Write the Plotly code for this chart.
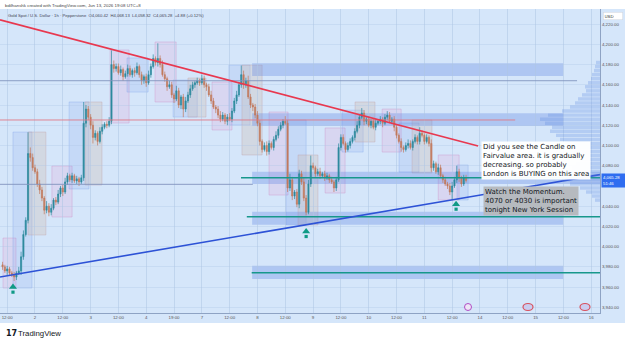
import plotly.graph_objects as go

# ---------------- data ----------------
x_tick_vals = [-12, 0, 12, 24, 36, 48, 60, 72, 84, 96, 108, 120, 132, 144, 156, 168, 180, 192, 204, 216, 228, 240]
x_tick_text = ["12:00", "2", "12:00", "3", "12:00", "4", "19:00", "7", "12:00", "8", "12:00", "9",
               "12:00", "10", "12:00", "11", "12:00", "14", "12:00", "15", "12:00", "16"]
# 4,060 is hidden behind the last-price label in the original
y_tick_vals = [3940, 3960, 3980, 4000, 4020, 4040, 4080, 4100, 4120, 4140, 4160, 4180, 4200, 4220]

bar_index = list(range(-14, 187))   # hourly bars
first_open = 3982
closes = [
    3980, 3976, 3978, 3974, 3972, 3970, 3974, 3976, 3990, 4012,
    4026, 4092, 4088, 4078, 4074, 4062, 4056, 4048, 4036, 4040,
    4034, 4038, 4046, 4044, 4052, 4058, 4054, 4064, 4070, 4066,
    4070, 4065, 4067, 4064, 4068, 4122, 4136, 4128, 4120, 4108,
    4112, 4104, 4114, 4118, 4121, 4120, 4124, 4180, 4176, 4178,
    4172, 4175, 4168, 4171, 4176, 4170, 4174, 4172, 4178, 4170,
    4164, 4168, 4162, 4170, 4178, 4186, 4182, 4186, 4180, 4170,
    4166, 4158, 4160, 4150, 4146, 4154, 4140, 4148, 4136, 4144,
    4150, 4156, 4160, 4162, 4164, 4162, 4166, 4160, 4158, 4150,
    4144, 4138, 4136, 4130, 4126, 4130, 4124, 4128, 4126, 4134,
    4144, 4150, 4160, 4170, 4160, 4164, 4148, 4140, 4138, 4130,
    4122, 4104, 4096, 4100, 4094, 4102, 4098, 4106, 4110, 4116,
    4120, 4124, 4122, 4058, 4066, 4050, 4054, 4042, 4072, 4064,
    4048, 4034, 4062, 4080, 4078, 4072, 4074, 4070, 4072, 4068,
    4070, 4066, 4064, 4058, 4066, 4098, 4108, 4102, 4096, 4100,
    4104, 4108, 4114, 4120, 4128, 4132, 4124, 4126, 4120, 4124,
    4118, 4122, 4124, 4126, 4122, 4128, 4130, 4124, 4126, 4118,
    4110, 4104, 4098, 4096, 4100, 4102, 4098, 4104, 4108, 4104,
    4112, 4110, 4104, 4108, 4102, 4078, 4082, 4074, 4078, 4070,
    4066, 4062, 4060, 4054, 4060, 4066, 4074, 4068, 4062, 4068,
    4065.28,
]
upper_wick = [
    3, 2, 3, 2, 2, 3, 2, 4, 5, 4,
    3, 21, 6, 4, 3, 3, 4, 3, 2, 5,
    3, 4, 2, 3, 4, 2, 3, 4, 3, 2,
    3, 2, 3, 2, 3, 21, 4, 3, 3, 4,
    3, 2, 4, 3, 2, 3, 4, 14, 4, 3,
    3, 4, 2, 3, 4, 3, 2, 3, 4, 2,
    3, 2, 3, 4, 3, 4, 2, 15, 3, 4,
    3, 2, 4, 3, 2, 5, 3, 2, 3, 4,
    3, 4, 3, 2, 3, 2, 4, 3, 2, 3,
    4, 3, 2, 3, 4, 3, 2, 3, 4, 3,
    3, 4, 3, 9, 4, 3, 5, 3, 2, 3,
    4, 3, 2, 3, 4, 3, 2, 3, 4, 3,
    3, 2, 5, 3, 6, 3, 2, 3, 4, 3,
    4, 3, 4, 10, 3, 2, 3, 4, 2, 3,
    3, 2, 3, 2, 3, 4, 3, 3, 2, 3,
    3, 2, 3, 4, 3, 5, 3, 2, 3, 2,
    3, 4, 2, 3, 2, 3, 4, 3, 2, 3,
    3, 2, 3, 2, 3, 4, 3, 2, 3, 2,
    6, 3, 2, 3, 2, 4, 3, 2, 4, 3,
    2, 3, 2, 3, 4, 3, 6, 3, 2, 3,
    3,
]
lower_wick = [
    3, 2, 4, 3, 2, 4, 3, 2, 4, 3,
    2, 3, 4, 3, 2, 3, 4, 3, 4, 3,
    4, 3, 2, 3, 2, 3, 4, 2, 3, 2,
    3, 2, 3, 4, 2, 3, 4, 3, 4, 6,
    3, 4, 2, 3, 2, 3, 2, 3, 4, 3,
    2, 3, 4, 2, 3, 2, 3, 4, 2, 3,
    4, 3, 4, 2, 3, 2, 3, 4, 3, 2,
    3, 4, 2, 3, 4, 2, 3, 4, 8, 3,
    2, 3, 2, 3, 2, 3, 2, 3, 4, 2,
    3, 2, 4, 3, 3, 2, 3, 4, 2, 3,
    2, 3, 2, 3, 4, 3, 2, 3, 4, 3,
    3, 4, 3, 2, 4, 3, 2, 3, 2, 3,
    2, 3, 2, 4, 3, 4, 3, 3, 4, 3,
    3, 3, 2, 3, 2, 3, 2, 3, 2, 3,
    2, 3, 2, 4, 3, 2, 3, 2, 3, 2,
    3, 2, 3, 2, 3, 2, 4, 3, 2, 3,
    2, 3, 2, 3, 4, 2, 3, 2, 3, 4,
    3, 2, 4, 3, 2, 3, 2, 3, 2, 3,
    3, 2, 3, 2, 3, 4, 3, 2, 3, 2,
    3, 2, 3, 3, 8, 2, 3, 4, 3, 2,
    2,
]

# trend lines (bar index, price)
red_trend_x = [-15.1, 191.2]
red_trend_y = [4224.2, 4099.5]
blue_trend_x = [-15.1, 243.8]
blue_trend_y = [3970.0, 4071.2]

# key horizontal levels
teal_levels = [4068.1, 4029.6, 3974.2]
teal_start = [88.9, 91.4, 93.5]
grey_levels = [4164.0, 4061.6]
grey_end = [233.9, 94.0]
red_level = 4125.2
red_level_end = 207.2
chart_left = -15.1
chart_right = 243.8

# supply / demand zones
zone_top = [4181.2, 4131.8, 4074.0, 4034.5, 3981.1]
zone_bot = [4168.7, 4119.2, 4062.0, 4021.6, 3968.0]
zone_x0 = [93.7, 93.7, 93.7, 93.7, 93.7]
zone_x1 = [227.9, 227.9, 243.8, 227.9, 227.9]

# session boxes
box_kind = (["p"] * 9) + (["b"] * 9) + (["g"] * 7)
box_x0 = [-13.8, 7.3, 32.4, 51.8, 76.4, 101.0, 125.2, 149.8, 174.0,
          -9.5, 14.7, 39.7, 59.6, 83.7, 108.3, 132.5, 157.1, 182.1,
          -3.0, 21.6, 66.0, 89.3, 113.5, 138.1, 162.7]
box_x1 = [-8.2, 16.0, 40.6, 60.9, 85.0, 109.2, 133.8, 158.0, 183.0,
          -1.3, 23.3, 48.8, 70.0, 92.8, 117.0, 141.6, 165.7, 186.9,
          4.7, 28.9, 73.8, 98.0, 122.1, 146.7, 171.3]
box_top = [4008.5, 4079.7, 4194.4, 4202.3, 4162.7, 4133.1, 4117.3, 4136.0, 4090.6,
           4113.3, 4143.0, 4186.5, 4164.7, 4179.5, 4125.2, 4135.0, 4122.2, 4080.7,
           4113.3, 4143.0, 4166.7, 4179.5, 4090.6, 4143.0, 4125.2]
box_bot = [3959.1, 4029.3, 4122.2, 4143.0, 4115.3, 4051.0, 4053.0, 4093.5, 4046.1,
           3959.1, 4057.0, 4152.8, 4128.1, 4120.2, 4021.4, 4093.5, 4073.7, 4046.1,
           4011.5, 4060.9, 4128.1, 4090.6, 4021.4, 4103.4, 4072.8]

# buy arrows
arrow_x = [-9.5, 117.0, 181.7]
arrow_y = [3960.0, 4015.0, 4042.0]

# fixed range volume profile
vp_price = [4182, 4178, 4174, 4170, 4166, 4162, 4158, 4154, 4150, 4146, 4142, 4138, 4134, 4130,
            4126, 4122, 4118, 4114, 4110, 4106, 4102, 4098, 4094, 4090, 4086, 4082, 4078, 4074,
            4070, 4066, 4062, 4058, 4054, 4050, 4046]
vp_len = [4, 5, 6, 8, 9, 12, 15, 14, 18, 22, 25, 30, 38, 52, 60, 55, 48, 50, 44, 40, 35, 30, 26,
          22, 20, 24, 28, 34, 40, 38, 30, 20, 14, 8, 5]

last_price = 4065.28
countdown = "51:46"
note1 = "Did you see the Candle on<br>Fairvalue area. it is gradually<br>decreasing. so probably<br>London is BUYING on this area"
note2 = "Watch the Momentum.<br>4070 or 4030 is important<br>tonight New York Session"
header = "bdilhanshk created with TradingView.com, Jun 13, 2026 19:08 UTC+8"
legend = "Gold Spot / U.S. Dollar · 1h · Pepperstone  O4,060.42  H4,068.13  L4,058.32  C4,065.28  +4.88 (+0.12%)"

# ---------------- figure ----------------
W, H = 625, 343
ML, MR, MT, MB = 0, 25, 9, 30
PW, PH = W - ML - MR, H - MT - MB


def px(xp):
    return (xp - ML) / PW


def py(yp):
    return (H - MB - yp) / PH


UP = "#2c8a9d"
DN = "#c27a5d"
BG = "#d5e6fa"

opens = [first_open] + closes[:-1]
highs = [max(o, c) + w for o, c, w in zip(opens, closes, upper_wick)]
lows = [min(o, c) - w for o, c, w in zip(opens, closes, lower_wick)]

fig = go.Figure()

fig.add_trace(go.Bar(y=vp_price, x=vp_len, orientation="h", xaxis="x2", yaxis="y", width=3.4,
                     marker=dict(color="rgba(95,135,225,0.28)", line=dict(width=0)),
                     hoverinfo="skip", showlegend=False))

fig.add_trace(go.Candlestick(
    x=bar_index, open=opens, high=highs, low=lows, close=closes,
    increasing=dict(line=dict(color=UP, width=0.7), fillcolor=UP),
    decreasing=dict(line=dict(color=DN, width=0.7), fillcolor=DN),
    whiskerwidth=0, hoverinfo="skip", showlegend=False))

# horizontal levels
for lv, xs in zip(teal_levels, teal_start):
    fig.add_trace(go.Scatter(x=[xs, chart_right], y=[lv, lv], mode="lines",
                             line=dict(color="#17978b", width=1.5), hoverinfo="skip", showlegend=False))
for lv, xe in zip(grey_levels, grey_end):
    fig.add_trace(go.Scatter(x=[chart_left, xe], y=[lv, lv], mode="lines",
                             line=dict(color="#8193bd", width=0.9), hoverinfo="skip", showlegend=False))
fig.add_trace(go.Scatter(x=[chart_left, red_level_end], y=[red_level, red_level], mode="lines",
                         line=dict(color="#e07a88", width=0.9), hoverinfo="skip", showlegend=False))

# trend lines
fig.add_trace(go.Scatter(x=red_trend_x, y=red_trend_y, mode="lines",
                         line=dict(color="#e8384f", width=1.6), hoverinfo="skip", showlegend=False))
fig.add_trace(go.Scatter(x=blue_trend_x, y=blue_trend_y, mode="lines",
                         line=dict(color="#2d52d6", width=1.6), hoverinfo="skip", showlegend=False))

# arrows (head + stem)
fig.add_trace(go.Scatter(x=arrow_x, y=arrow_y, mode="markers",
                         marker=dict(symbol="triangle-up", size=7, color="#109a86"),
                         hoverinfo="skip", showlegend=False))
fig.add_trace(go.Scatter(x=arrow_x, y=[v - 5 for v in arrow_y], mode="markers",
                         marker=dict(symbol="square", size=3.2, color="#109a86"),
                         hoverinfo="skip", showlegend=False))

shapes = []
# chart background (price + time axis strips included)
shapes.append(dict(type="rect", xref="paper", yref="paper", x0=px(0), x1=px(W), y0=py(323), y1=py(MT),
                   fillcolor=BG, line=dict(width=0), layer="below"))

box_style = {
    "p": ("rgba(226,180,222,0.30)", "rgba(205,140,195,0.6)"),
    "b": ("rgba(110,150,232,0.15)", "rgba(110,150,232,0.45)"),
    "g": ("rgba(205,188,178,0.32)", "rgba(190,155,160,0.55)"),
}
for k, x0, x1, t, b in zip(box_kind, box_x0, box_x1, box_top, box_bot):
    fc, lc = box_style[k]
    shapes.append(dict(type="rect", xref="x", yref="y", x0=x0, x1=x1, y0=b, y1=t,
                       fillcolor=fc, line=dict(color=lc, width=0.6), layer="below"))

for t, b, x0, x1 in zip(zone_top, zone_bot, zone_x0, zone_x1):
    shapes.append(dict(type="rect", xref="x", yref="y", x0=x0, x1=x1, y0=b, y1=t,
                       fillcolor="rgba(92,130,228,0.32)", line=dict(width=0), layer="below"))

# event icons on the time scale
shapes.append(dict(type="circle", xref="paper", yref="paper", x0=px(464.5), x1=px(471.5),
                   y0=py(310.5), y1=py(303.5), fillcolor="#eee6f6", line=dict(color="#b04cc4", width=1)))
for cx in (528, 585):
    shapes.append(dict(type="circle", xref="paper", yref="paper", x0=px(cx - 5), x1=px(cx + 5),
                       y0=py(310.5), y1=py(303.5), fillcolor="#c9cdf0", line=dict(color="#d8505e", width=1.2)))

annotations = [
    dict(xref="paper", yref="paper", x=px(3), y=py(5), xanchor="left", yanchor="middle", showarrow=False,
         text=header, font=dict(family="Liberation Sans", size=4.4, color="#444")),
    dict(xref="paper", yref="paper", x=px(6), y=py(15), xanchor="left", yanchor="middle", showarrow=False,
         text=legend, font=dict(family="Liberation Sans", size=4.2, color="#445")),
    dict(xref="paper", yref="paper", x=px(481), y=py(141), xanchor="left", yanchor="top", showarrow=False,
         text=note1, align="left", bgcolor="rgba(255,255,255,0.97)", borderpad=1,
         font=dict(family="DejaVu Sans", size=7, color="#131722")),
    dict(xref="paper", yref="paper", x=px(483), y=py(186), xanchor="left", yanchor="top", showarrow=False,
         text=note2, align="left", bgcolor="#b6babf", borderpad=1,
         font=dict(family="DejaVu Sans", size=7, color="#131722")),
    dict(xref="paper", yref="y", x=px(601), y=last_price, xanchor="left", yanchor="middle", showarrow=False,
         text="4,065.28<br>" + countdown, align="left", bgcolor="#2f6df0", borderpad=1, width=21,
         font=dict(family="Liberation Sans", size=4.3, color="white")),
    dict(xref="paper", yref="paper", x=px(603), y=py(15.5), xanchor="left", yanchor="middle", showarrow=False,
         text="USD", align="left", bgcolor="white", bordercolor="#d0d4dc", borderwidth=0.5, borderpad=1,
         width=17, font=dict(family="Liberation Sans", size=4.3, color="#333")),
    dict(xref="paper", yref="paper", x=px(4), y=py(333), xanchor="left", yanchor="middle", showarrow=False,
         text="<b>17</b>", font=dict(family="DejaVu Sans", size=8, color="#131722")),
    dict(xref="paper", yref="paper", x=px(16), y=py(333), xanchor="left", yanchor="middle", showarrow=False,
         text="TradingView", font=dict(family="Liberation Sans", size=7.8, color="#131722")),
]

fig.update_layout(
    width=W, height=H, margin=dict(l=ML, r=MR, t=MT, b=MB, pad=0),
    paper_bgcolor="white", plot_bgcolor="rgba(0,0,0,0)",
    showlegend=False, bargap=0.1,
    font=dict(family="Liberation Sans"),
    shapes=shapes, annotations=annotations,
    xaxis=dict(range=[chart_left, chart_right], tickvals=x_tick_vals, ticktext=x_tick_text,
               tickfont=dict(size=4.4, color="#555"), ticks="", showgrid=True,
               gridcolor="rgba(175,198,228,0.55)", gridwidth=0.6, zeroline=False,
               showline=True, linecolor="#8ea3c4", linewidth=1, rangeslider=dict(visible=False),
               fixedrange=True),
    xaxis2=dict(overlaying="x", range=[PW, 0], visible=False, showgrid=False, fixedrange=True),
    yaxis=dict(side="right", range=[3934.4, 4234.9], tickvals=y_tick_vals, tickformat=",.2f",
               tickfont=dict(size=4.4, color="#555"), ticks="", showgrid=True,
               gridcolor="rgba(175,198,228,0.35)", gridwidth=0.6, zeroline=False,
               showline=True, linecolor="#8ea3c4", linewidth=1, fixedrange=True),
)

fig.write_html("out.html")
